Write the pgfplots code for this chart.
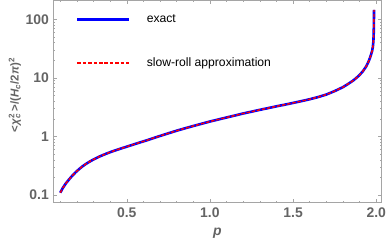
\documentclass[border=0pt]{standalone}
\usepackage{fontspec}
\setmainfont{Liberation Sans}
\usepackage{pgfplots}
\usepackage{pgfplotstable}
\pgfplotsset{compat=1.18}
\definecolor{tickgray}{RGB}{100,100,100}
\definecolor{framegray}{RGB}{165,165,165}
\definecolor{exactblue}{RGB}{0,0,255}
\definecolor{srred}{RGB}{255,0,0}

\pgfplotstableread{
p f
0.100 0.110
0.115 0.132
0.134 0.159
0.154 0.187
0.174 0.217
0.194 0.248
0.214 0.279
0.234 0.310
0.254 0.340
0.274 0.369
0.294 0.397
0.334 0.453
0.375 0.507
0.415 0.560
0.455 0.611
0.495 0.664
0.535 0.722
0.575 0.785
0.620 0.860
0.670 0.960
0.720 1.065
0.800 1.256
0.850 1.38
0.900 1.51
0.950 1.65
1.000 1.80
1.050 1.95
1.100 2.11
1.150 2.28
1.200 2.47
1.250 2.65
1.300 2.85
1.350 3.05
1.400 3.27
1.450 3.49
1.500 3.74
1.550 4.01
1.600 4.32
1.650 4.70
1.700 5.20
1.750 5.95
1.800 6.95
1.830 7.85
1.860 8.95
1.880 9.95
1.900 11.2
1.920 13.0
1.940 15.7
1.955 19.3
1.965 23.0
1.975 28.5
1.980 34.0
1.983 42.0
1.985 58.0
1.986 85.0
1.987 144.0
}\exacttable

\pgfplotstableread{
p f
0.100 0.110
0.115 0.132
0.134 0.159
0.154 0.187
0.174 0.217
0.194 0.248
0.214 0.279
0.234 0.310
0.254 0.340
0.274 0.369
0.294 0.397
0.334 0.453
0.375 0.507
0.415 0.560
0.455 0.611
0.495 0.664
0.535 0.722
0.575 0.785
0.620 0.860
0.670 0.960
0.720 1.065
0.800 1.256
0.850 1.38
0.900 1.51
0.950 1.65
1.000 1.80
1.050 1.95
1.100 2.11
1.150 2.28
1.200 2.47
1.250 2.65
1.300 2.85
1.350 3.05
1.400 3.27
1.450 3.49
1.500 3.74
1.550 4.01
1.600 4.32
1.650 4.70
1.700 5.20
1.750 5.95
1.800 6.95
1.830 7.85
1.860 8.95
1.880 9.95
1.900 11.2
1.920 13.0
1.940 15.7
1.955 19.3
1.965 23.0
1.975 28.5
1.980 34.0
1.983 42.0
1.985 58.0
1.986 85.0
1.987 144.0
}\srtable

\begin{document}
\begin{tikzpicture}
\begin{axis}[
  scale only axis,
  width=328.4bp, height=202.2bp,
  ymode=log,
  xmin=0.058, xmax=2.033,
  ymin=0.0742, ymax=209,
  axis line style={framegray, line width=0.8pt},
  xtick={0.5,1,1.5,2},
  xticklabels={0.5,1.0,1.5,2.0},
  minor xtick={0.1,0.2,0.3,0.4,0.6,0.7,0.8,0.9,1.1,1.2,1.3,1.4,1.6,1.7,1.8,1.9},
  ytick={0.1,1,10,100},
  yticklabels={0.1,1,10,100},
  tick style={framegray, line width=0.5pt},
  major tick length=3.5bp,
  minor tick length=2bp,
  tick align=inside,
  /pgf/number format/assume math mode=true,
  ticklabel style={font=\fontsize{14}{14}\selectfont\bfseries, text=tickgray},
  xticklabel style={yshift=-2bp},
  yticklabel style={xshift=-1bp},
  xlabel={\textbf{\textit{p}}},
  xlabel style={font=\fontsize{14}{14}\selectfont, text=tickgray, at={(axis description cs:0.5,0)}, anchor=center, yshift=-30bp},
  ylabel={\textbf{<\textit{χ}\rlap{\textsuperscript{2}}\textsubscript{\textit{c}}\,>/(\textit{H}\textsubscript{\textit{c}}/2\textit{π})\textsuperscript{2}}},
  ylabel style={font=\fontsize{11.5}{12}\selectfont, text=tickgray, at={(axis description cs:-0.117,0.533)}, anchor=center},
  legend style={draw=none, fill=none, at={(axis description cs:0.069,0.94)}, anchor=north west,
    font=\fontsize{12.2}{14}\selectfont, row sep=30bp, inner sep=0pt},
  legend cell align=left,
]
\coordinate (sw) at (rel axis cs:0,0);
\addlegendimage{legend image code/.code={\draw[draw=exactblue, line width=2.6bp] (0bp,0bp) -- (52bp,0bp);}}
\addlegendentry{\hspace*{14bp}exact}
\addlegendimage{legend image code/.code={\draw[draw=srred, line width=1.7bp, dash pattern=on 3.6bp off 1.8bp] (0bp,0bp) -- (52bp,0bp);}}
\addlegendentry{\hspace*{14bp}slow-roll approximation}
\addplot[color=exactblue, line width=2.6bp, forget plot] table[x=p,y=f] {\exacttable};
\addplot[color=srred, line width=1.4bp, dash pattern=on 3.4bp off 1.8bp, forget plot] table[x=p,y=f] {\srtable};
\end{axis}
\pgfresetboundingbox
\path[use as bounding box] ([shift={(-53.3bp,-43.3bp)}]sw) rectangle ++(387bp,246bp);
\end{tikzpicture}
\end{document}
